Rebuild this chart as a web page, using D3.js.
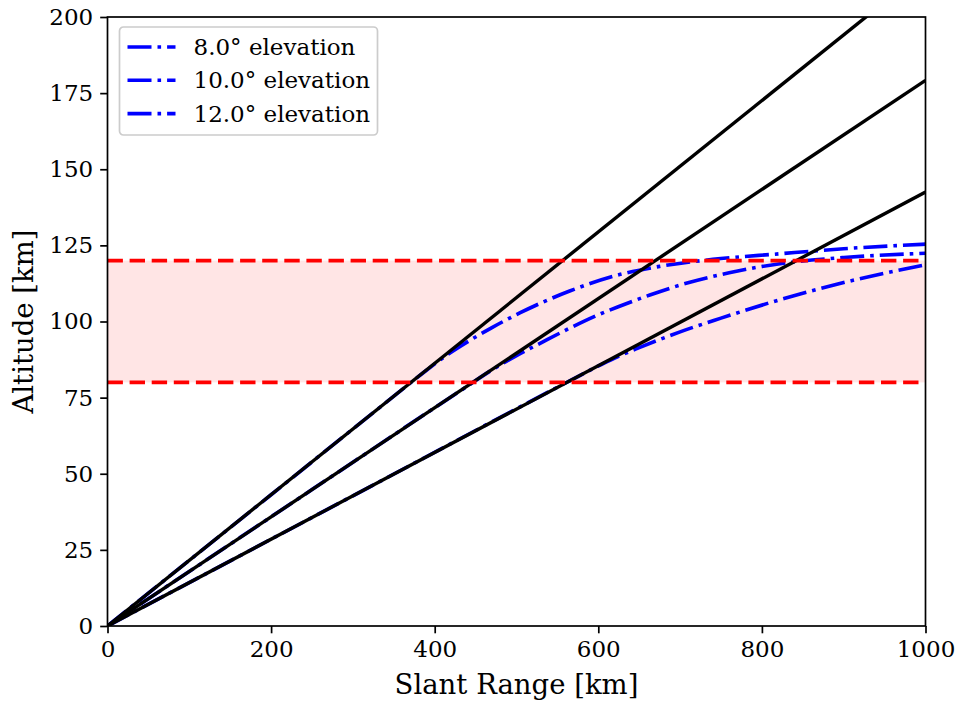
<!DOCTYPE html>
<html>
<head>
<meta charset="utf-8">
<script src="https://cdn.jsdelivr.net/npm/d3@7"></script>
<style>
  html, body { margin: 0; padding: 0; background: #fff; }
  svg text { font-family: "DejaVu Serif", serif; fill: #000; }
</style>
</head>
<body>
<div id="chart"></div>
<script>
  // ─── Slant range vs altitude ───

  const xTicks = [0, 200, 400, 600, 800, 1000];
  const yTicks = [0, 25, 50, 75, 100, 125, 150, 175, 200];

  // straight lines of sight (range, altitude)
  const lineOfSight12 = [[0, 0], [1000, 215.7]];
  const lineOfSight10 = [[0, 0], [1000, 179.2]];
  const lineOfSight8 = [[0, 0], [1000, 142.5]];

  // dash-dot curves
  const elev8 = [[0, 0], [300, 42.75], [560, 79.8], [590, 84.0], [620, 88.0], [650, 91.4], [700, 96.6],
    [750, 101.1], [820, 107.0], [900, 112.8], [1000, 118.6]];
  const elev10 = [[0, 0], [250, 44.8], [440, 78.8], [470, 84.1], [500, 88.8], [530, 93.0], [565, 97.8],
    [600, 102.2], [626, 105.0], [663, 108.7], [712, 112.9], [760, 116.0], [820, 118.9], [900, 121.0], [1000, 122.4]];
  const elev12 = [[0, 0], [200, 43.1], [360, 77.6], [390, 84.0], [415, 89.0], [443, 93.8], [470, 98.0],
    [504, 102.8], [565, 110.0], [626, 115.4], [675, 118.1], [740, 120.4], [820, 122.2], [900, 123.9], [1000, 125.4]];

  const bandLow = 80;
  const bandHigh = 120;

  const legendLabels = ['8.0° elevation', '10.0° elevation', '12.0° elevation'];

  const W = 958, H = 704;
  const margin = { left: 107.5, right: 32.5, top: 17, bottom: 78 };
  const innerW = W - margin.left - margin.right;
  const innerH = H - margin.top - margin.bottom;

  const svg = d3.select('#chart').append('svg')
    .attr('width', W).attr('height', H);

  svg.append('defs').append('clipPath').attr('id', 'clip')
    .append('rect').attr('width', innerW).attr('height', innerH);

  const g = svg.append('g').attr('transform', `translate(${margin.left},${margin.top})`);

  const x = d3.scaleLinear().domain([0, 1000]).range([0, innerW]);
  const y = d3.scaleLinear().domain([0, 200]).range([innerH, 0]);

  const plot = g.append('g').attr('clip-path', 'url(#clip)');

  // shaded band
  plot.append('rect')
    .attr('x', x(0)).attr('width', x(1000) - x(0))
    .attr('y', y(bandHigh)).attr('height', y(bandLow) - y(bandHigh))
    .attr('fill', '#ff0000').attr('fill-opacity', 0.1);

  const line = d3.line().x(d => x(d[0])).y(d => y(d[1]));
  const curve = d3.line().x(d => x(d[0])).y(d => y(d[1])).curve(d3.curveMonotoneX);

  const dashDot = '24,6,3.6,6';

  // blue curves
  [elev8, elev10, elev12].forEach(s => {
    plot.append('path').datum(s)
      .attr('d', curve)
      .attr('fill', 'none').attr('stroke', '#0000ff')
      .attr('stroke-width', 3.6)
      .attr('stroke-dasharray', dashDot);
  });

  // black lines
  [lineOfSight12, lineOfSight10, lineOfSight8].forEach(s => {
    plot.append('path').datum(s)
      .attr('d', line)
      .attr('fill', 'none').attr('stroke', '#000')
      .attr('stroke-width', 3.4);
  });

  // red dashed boundaries
  [bandLow, bandHigh].forEach(v => {
    plot.append('line')
      .attr('x1', x(0)).attr('x2', x(1000))
      .attr('y1', y(v)).attr('y2', y(v))
      .attr('stroke', '#ff0000').attr('stroke-width', 3.8)
      .attr('stroke-dasharray', '15.4,6.7');
  });

  // axes
  const xAxis = g.append('g').attr('transform', `translate(0,${innerH})`)
    .call(d3.axisBottom(x).tickValues(xTicks).tickSize(7.3).tickPadding(7).tickFormat(d3.format('d')));
  const yAxis = g.append('g')
    .call(d3.axisLeft(y).tickValues(yTicks).tickSize(7.3).tickPadding(7).tickFormat(d3.format('d')));

  [xAxis, yAxis].forEach(a => {
    a.selectAll('.domain').remove();
    a.selectAll('.tick line').attr('stroke', '#000').attr('stroke-width', 1.7);
    a.selectAll('.tick text').style('font-size', '23px').style('font-family', '"DejaVu Serif", serif');
  });

  g.append('rect')
    .attr('width', innerW).attr('height', innerH)
    .attr('fill', 'none').attr('stroke', '#000').attr('stroke-width', 1.7);

  // axis labels
  svg.append('text')
    .attr('x', margin.left + innerW / 2).attr('y', 694)
    .attr('text-anchor', 'middle').style('font-size', '27.5px')
    .text('Slant Range [km]');

  svg.append('text')
    .attr('transform', `translate(33,${margin.top + innerH / 2}) rotate(-90)`)
    .attr('text-anchor', 'middle').style('font-size', '27.5px')
    .text('Altitude [km]');

  // legend
  const leg = g.append('g').attr('transform', 'translate(12,10)');
  leg.append('rect')
    .attr('width', 258).attr('height', 108).attr('rx', 4)
    .attr('fill', '#fff').attr('fill-opacity', 0.8)
    .attr('stroke', '#ccc').attr('stroke-width', 1.7);

  legendLabels.forEach((lab, i) => {
    const cy = 20 + i * 33.3;
    leg.append('line')
      .attr('x1', 8).attr('x2', 56)
      .attr('y1', cy).attr('y2', cy)
      .attr('stroke', '#0000ff').attr('stroke-width', 3.6)
      .attr('stroke-dasharray', dashDot);
    leg.append('text')
      .attr('x', 74).attr('y', cy).attr('dy', '0.35em')
      .style('font-size', '23px')
      .text(lab);
  });
</script>
</body>
</html>
